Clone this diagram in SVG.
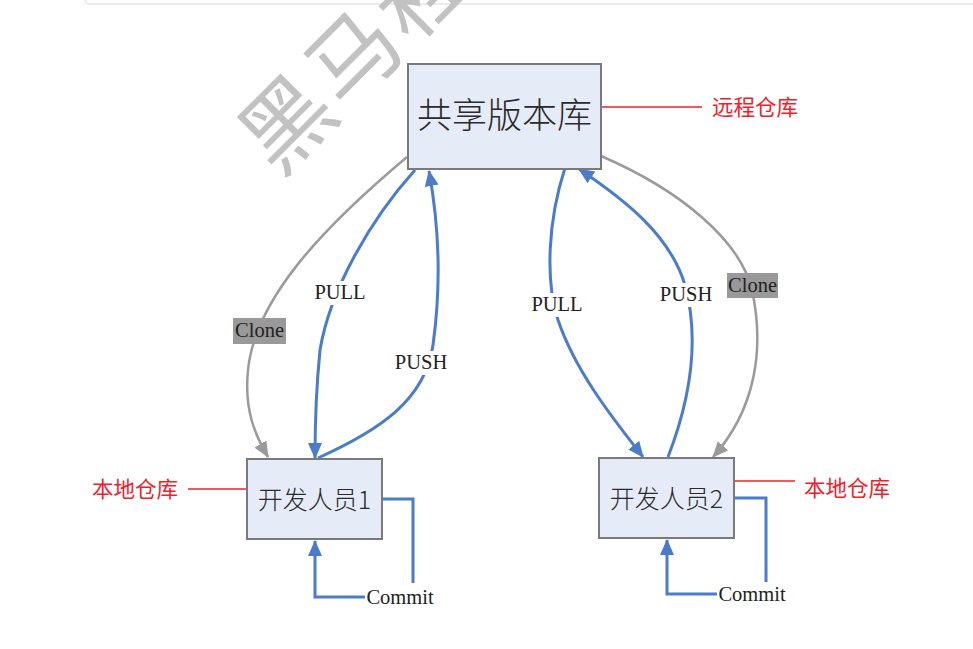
<svg xmlns="http://www.w3.org/2000/svg" width="973" height="649" viewBox="0 0 973 649">
<defs>
<style>
.node rect{fill:#e6ecf7;stroke:#7a7a7a;stroke-width:2}
.ntext{font-family:"Noto Sans CJK SC","Liberation Serif",serif;font-weight:300;fill:#2a2a2a;text-anchor:middle}
.blue{fill:none;stroke:#4a7cc9;stroke-width:3}
.gray{fill:none;stroke:#9a9a9a;stroke-width:2.5}
.red{stroke:#f0202a;stroke-width:1.5;fill:none}
.rtext{font-family:"Noto Sans CJK SC",sans-serif;font-size:21.5px;fill:#f0202a}
.lbl{font-family:"Liberation Serif",serif;font-size:20.5px;fill:#222;text-anchor:middle}
.lblbg{fill:#ffffff}
.clonebg{fill:#999999}
</style>
<marker id="ab" markerUnits="userSpaceOnUse" markerWidth="16" markerHeight="14" refX="15" refY="7" orient="auto">
<path d="M0,0 L16,7 L0,14 z" fill="#4a7cc9"/>
</marker>
<marker id="ag" markerUnits="userSpaceOnUse" markerWidth="16" markerHeight="14" refX="15" refY="7" orient="auto">
<path d="M0,0 L16,7 L0,14 z" fill="#9a9a9a"/>
</marker>
</defs>
<rect width="973" height="649" fill="#ffffff"/>
<rect x="85" y="-20" width="900" height="24" rx="4" fill="none" stroke="#e2e5ea" stroke-width="1.5"/>
<text x="278" y="178" transform="rotate(-45 278 178)" font-family="Noto Sans CJK SC,serif" font-size="90" font-weight="400" fill="#c2c2c2" letter-spacing="4">黑马程</text>

<g id="connectors">
<path class="gray" d="M407,157 C320,230 255,300 248,370 C244,410 255,435 268,457" marker-end="url(#ag)"/>
<path class="blue" d="M415,170 C370,220 330,290 320,350 C316,390 315,420 315,458" marker-end="url(#ab)"/>
<path class="blue" d="M318,458 C380,430 425,400 433,345 C442,280 438,220 429,171" marker-end="url(#ab)"/>
<path class="blue" d="M565,168 C548,220 545,280 558,320 C575,370 610,415 643,457" marker-end="url(#ab)"/>
<path class="blue" d="M668,457 C690,400 700,340 685,285 C670,235 625,200 579,169" marker-end="url(#ab)"/>
<path class="gray" d="M601,156 C680,190 740,240 752,290 C765,350 755,410 713,457" marker-end="url(#ag)"/>
<polyline class="blue" points="382,499 413,499 413,583"/>
<polyline class="blue" points="365,597 315,597 315,541" marker-end="url(#ab)"/>
<polyline class="blue" points="734,498 766,498 766,582"/>
<polyline class="blue" points="717,594 667,594 667,540" marker-end="url(#ab)"/>
<line class="red" x1="601" y1="107" x2="702" y2="107"/>
<line class="red" x1="188" y1="489" x2="252" y2="489"/>
<line class="red" x1="734" y1="481" x2="795" y2="481"/>
<rect class="lblbg" x="311" y="281" width="58" height="24"/>
<text class="lbl" x="340" y="299">PULL</text>
<rect class="lblbg" x="391" y="351" width="60" height="24"/>
<text class="lbl" x="421" y="369">PUSH</text>
<rect class="lblbg" x="527" y="293" width="60" height="24"/>
<text class="lbl" x="557" y="311">PULL</text>
<rect class="lblbg" x="656" y="283" width="60" height="24"/>
<text class="lbl" x="686" y="301">PUSH</text>
<rect class="clonebg" x="233" y="318" width="53" height="26"/>
<text class="lbl" x="259.5" y="337" font-size="19.5">Clone</text>
<rect class="clonebg" x="727" y="273" width="51" height="25"/>
<text class="lbl" x="752.5" y="292" font-size="19.5">Clone</text>
<text class="lbl" x="400" y="604" font-size="21.5">Commit</text>
<text class="lbl" x="752" y="601" font-size="21.5">Commit</text>
</g>

<g id="node-remote" class="node">
<rect x="408" y="64" width="193" height="105"/>
<text class="ntext" x="504.5" y="128" font-size="35">共享版本库</text>
</g>
<g id="node-dev1" class="node">
<rect x="247" y="459" width="135" height="80"/>
<text class="ntext" x="314.5" y="509" font-size="25">开发人员1</text>
</g>
<g id="node-dev2" class="node">
<rect x="599" y="458" width="135" height="80"/>
<text class="ntext" x="666.5" y="508" font-size="25">开发人员2</text>
</g>
<g id="label-remote">
<text class="rtext" x="712" y="115">远程仓库</text>
</g>
<g id="label-local1">
<text class="rtext" x="92" y="497">本地仓库</text>
</g>
<g id="label-local2">
<text class="rtext" x="804" y="496">本地仓库</text>
</g>
</svg>
